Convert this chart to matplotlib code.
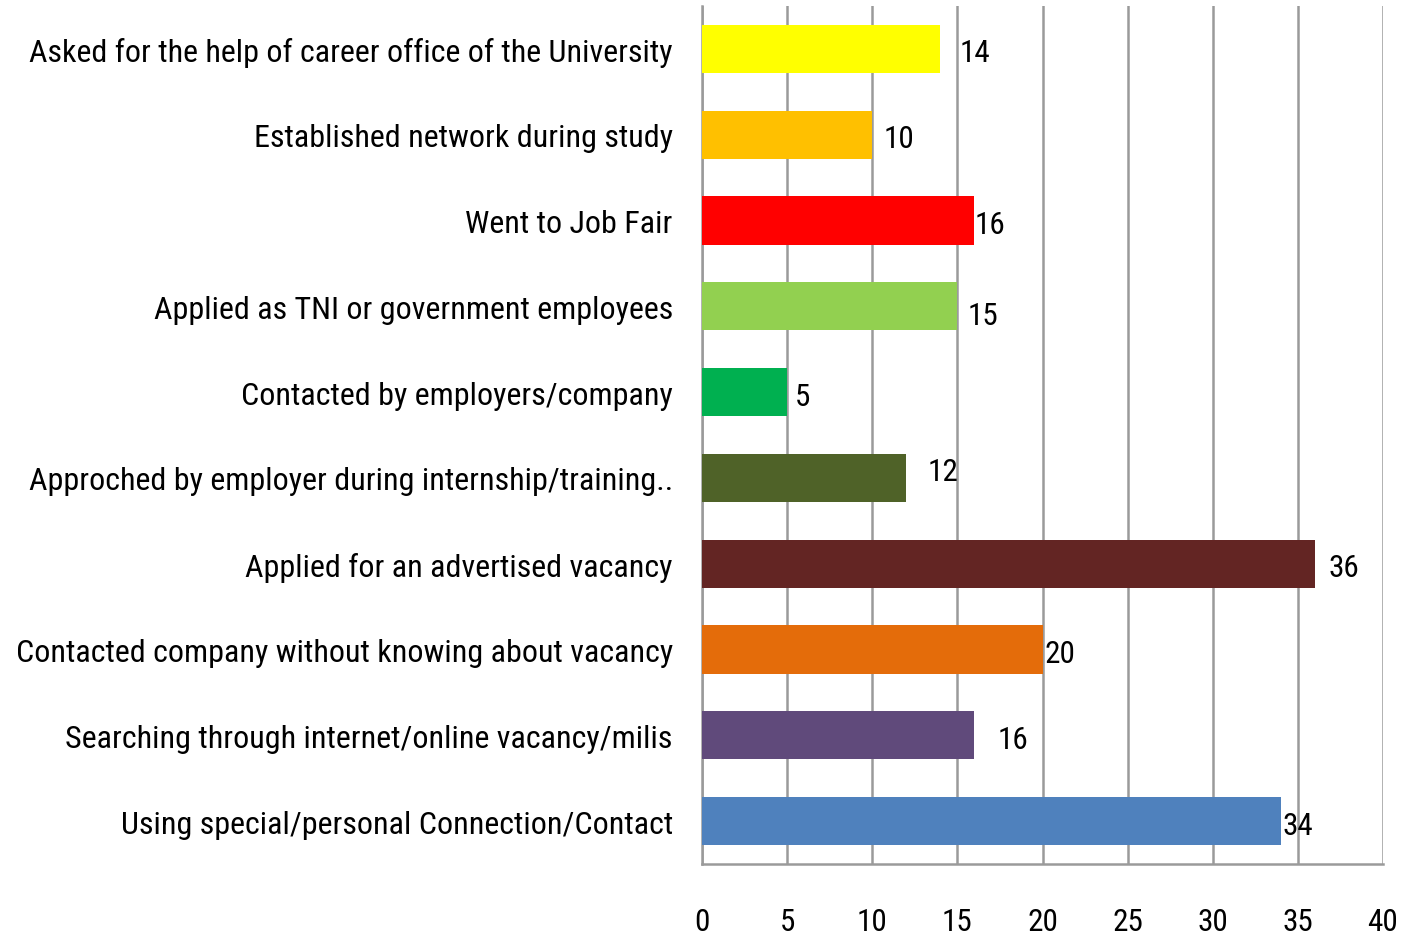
import matplotlib

matplotlib.use("Agg")
import matplotlib.pyplot as plt
from matplotlib import font_manager

categories = [
    "Asked for the help of career office of the University",
    "Established network during study",
    "Went to Job Fair",
    "Applied as TNI or government employees",
    "Contacted by employers/company",
    "Approched by employer during internship/training..",
    "Applied for an advertised vacancy",
    "Contacted company without knowing about vacancy",
    "Searching through internet/online vacancy/milis",
    "Using special/personal Connection/Contact",
]
values = [14, 10, 16, 15, 5, 12, 36, 20, 16, 34]
colors = ["#FFFF00", "#FFC000", "#FF0000", "#92D050", "#00B050",
          "#4F6228", "#632523", "#E46C0A", "#604A7B", "#4F81BD"]
ticks = [0, 5, 10, 15, 20, 25, 30, 35, 40]

# label offsets in pixels (dx, dy) copying the original placement
label_off = [(19, -4), (11, -4), (0, -4), (10, -9), (8, -4),
             (21, 6), (14, -4), (2, -4), (23, -4), (2, -4)]

names = {f.name for f in font_manager.fontManager.ttflist}
fam = "Lato"
for cand in ["Roboto Condensed", "Open Sans Condensed", "Liberation Sans Narrow"]:
    if cand in names:
        fam = cand
        break
plt.rcParams["font.family"] = [fam, "DejaVu Sans"]

fig = plt.figure(figsize=(14.08, 9.37), dpi=100)
ax = fig.add_axes([702 / 1408, 1 - 865 / 937, 681 / 1408, 858 / 937])

y = list(range(len(categories)))
ax.barh(y, values, height=0.56, color=colors, zorder=3)
ax.set_ylim(len(categories) - 0.5, -0.5)
ax.set_xlim(0, 40)

ax.set_xticks(ticks)
ax.set_xticklabels([str(t) for t in ticks], fontsize=22.5)
ax.set_yticks(y)
ax.set_yticklabels(categories, fontsize=23)
ax.tick_params(axis="x", length=0, pad=31)
ax.tick_params(axis="y", length=0, pad=21)

ax.grid(axis="x", color="#9a9a9a", linewidth=1.8, zorder=0)
for side in ["top", "right"]:
    ax.spines[side].set_visible(False)
ax.spines["left"].set_color("#9a9a9a")
ax.spines["left"].set_linewidth(1.8)
ax.spines["bottom"].set_color("#9a9a9a")
ax.spines["bottom"].set_linewidth(1.8)

for i, v in enumerate(values):
    dx, dy = label_off[i]
    ax.annotate(str(v), (v, i), xytext=(dx * 0.72, dy * 0.72),
                textcoords="offset points", ha="left", va="center",
                fontsize=22.5, zorder=4)

fig.savefig("out.png", dpi=100)
